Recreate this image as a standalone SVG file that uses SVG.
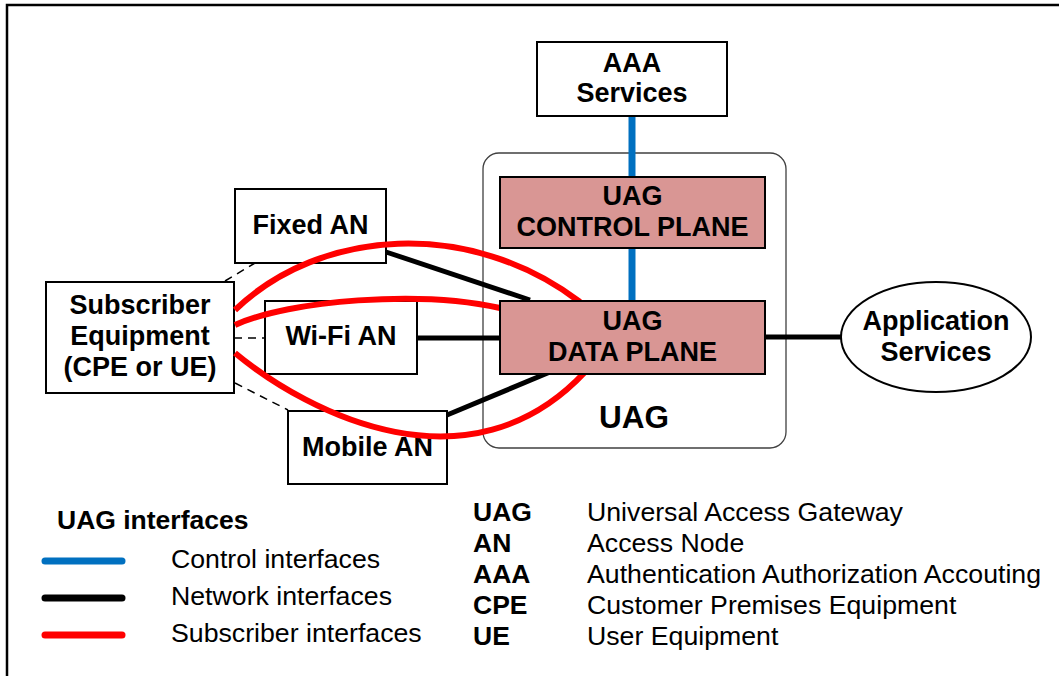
<svg xmlns="http://www.w3.org/2000/svg" width="1059" height="676" viewBox="0 0 1059 676">
  <style>
    .box { fill: #ffffff; stroke: #000000; stroke-width: 2; }
    .plane { fill: #D99694; stroke: #000000; stroke-width: 2; }
    .lbl { font-family: "Liberation Sans", Arial, sans-serif; font-weight: bold; font-size: 27px; fill: #000000; text-anchor: middle; }
    .txt { font-family: "Liberation Sans", Arial, sans-serif; font-size: 26.7px; fill: #000000; }
    .abbr { font-family: "Liberation Sans", Arial, sans-serif; font-weight: bold; font-size: 26.5px; fill: #000000; }
    .ctrl { stroke: #0070C0; stroke-width: 7; fill: none; }
    .net { stroke: #000000; stroke-width: 5; fill: none; }
    .sub { stroke: #FF0000; stroke-width: 6; fill: none; }
    .dash { stroke: #000000; stroke-width: 1.5; stroke-dasharray: 8 6; fill: none; }
  </style>

  <rect width="1059" height="676" fill="#ffffff"/>
  <!-- outer frame -->
  <path d="M7,680 L7,5 L1065,5" fill="none" stroke="#000000" stroke-width="2.5"/>

  <!-- UAG enclosure -->
  <g id="uag">
    <rect x="483" y="153" width="303" height="295" rx="16" ry="16" fill="none" stroke="#404040" stroke-width="1.3"/>
    <text class="lbl" x="634" y="428" style="font-size:31.5px">UAG</text>
  </g>

  <!-- access nodes -->
  <g id="fixed-an">
    <rect class="box" x="235" y="189" width="151" height="74"/>
    <text class="lbl" x="310.5" y="234">Fixed AN</text>
  </g>
  <g id="wifi-an">
    <rect class="box" x="265" y="301" width="152" height="73"/>
    <text class="lbl" x="341" y="345">Wi-Fi AN</text>
  </g>
  <g id="mobile-an">
    <rect class="box" x="288" y="411" width="159" height="73"/>
    <text class="lbl" x="367.5" y="456">Mobile AN</text>
  </g>
  <g id="subscriber">
    <rect class="box" x="46" y="282" width="188" height="111"/>
    <text class="lbl" x="140" y="314">Subscriber</text>
    <text class="lbl" x="140" y="345">Equipment</text>
    <text class="lbl" x="140" y="376">(CPE or UE)</text>
  </g>

  <!-- connectors -->
  <g id="connectors">
    <path class="dash" d="M225,281 L255,263"/>
    <path class="dash" d="M234,338 L265,338"/>
    <path class="dash" d="M235,383 L288,410"/>
    <path class="ctrl" d="M632,116 L632,177"/>
    <path class="ctrl" d="M632,248 L632,301"/>
    <path class="net" d="M386,252 L530,300"/>
    <path class="net" d="M417,338 L500,338"/>
    <path class="net" d="M447,415 L550,372"/>
    <path class="net" d="M765,337 L841,337"/>
    <path class="sub" d="M235,310 C320,228 470,218 580,302"/>
    <path class="sub" d="M235,325 C290,300 420,290 500,308"/>
    <path class="sub" d="M235,353 C310,415 470,495 585,372"/>
  </g>

  <g id="aaa">
    <rect class="box" x="537" y="42" width="190" height="74"/>
    <text class="lbl" x="632" y="72">AAA</text>
    <text class="lbl" x="632" y="102">Services</text>
  </g>
  <g id="control-plane">
    <rect class="plane" x="500" y="177" width="265" height="71"/>
    <text class="lbl" x="632.5" y="205">UAG</text>
    <text class="lbl" x="632.5" y="236">CONTROL PLANE</text>
  </g>
  <g id="data-plane">
    <rect class="plane" x="500" y="301" width="265" height="73"/>
    <text class="lbl" x="632.5" y="330">UAG</text>
    <text class="lbl" x="632.5" y="361">DATA PLANE</text>
  </g>
  <g id="app-services">
    <ellipse class="box" cx="936" cy="337" rx="95" ry="55"/>
    <text class="lbl" x="936" y="330">Application</text>
    <text class="lbl" x="936" y="361">Services</text>
  </g>

  <!-- legend -->
  <g id="legend">
    <text class="abbr" x="57" y="529">UAG interfaces</text>
    <line x1="45" y1="561" x2="122" y2="561" stroke="#0070C0" stroke-width="7" stroke-linecap="round"/>
    <line x1="45" y1="598" x2="122" y2="598" stroke="#000000" stroke-width="7" stroke-linecap="round"/>
    <line x1="45" y1="635" x2="122" y2="635" stroke="#FF0000" stroke-width="7" stroke-linecap="round"/>
    <text class="txt" x="171" y="568">Control interfaces</text>
    <text class="txt" x="171" y="605">Network interfaces</text>
    <text class="txt" x="171" y="642">Subscriber interfaces</text>
  </g>
  <g id="glossary">
    <text class="abbr" x="473" y="521">UAG</text>
    <text class="abbr" x="473" y="552">AN</text>
    <text class="abbr" x="473" y="583">AAA</text>
    <text class="abbr" x="473" y="614">CPE</text>
    <text class="abbr" x="473" y="645">UE</text>
    <text class="txt" x="587" y="521">Universal Access Gateway</text>
    <text class="txt" x="587" y="552">Access Node</text>
    <text class="txt" x="587" y="583">Authentication Authorization Accouting</text>
    <text class="txt" x="587" y="614">Customer Premises Equipment</text>
    <text class="txt" x="587" y="645">User Equipment</text>
  </g>
</svg>
